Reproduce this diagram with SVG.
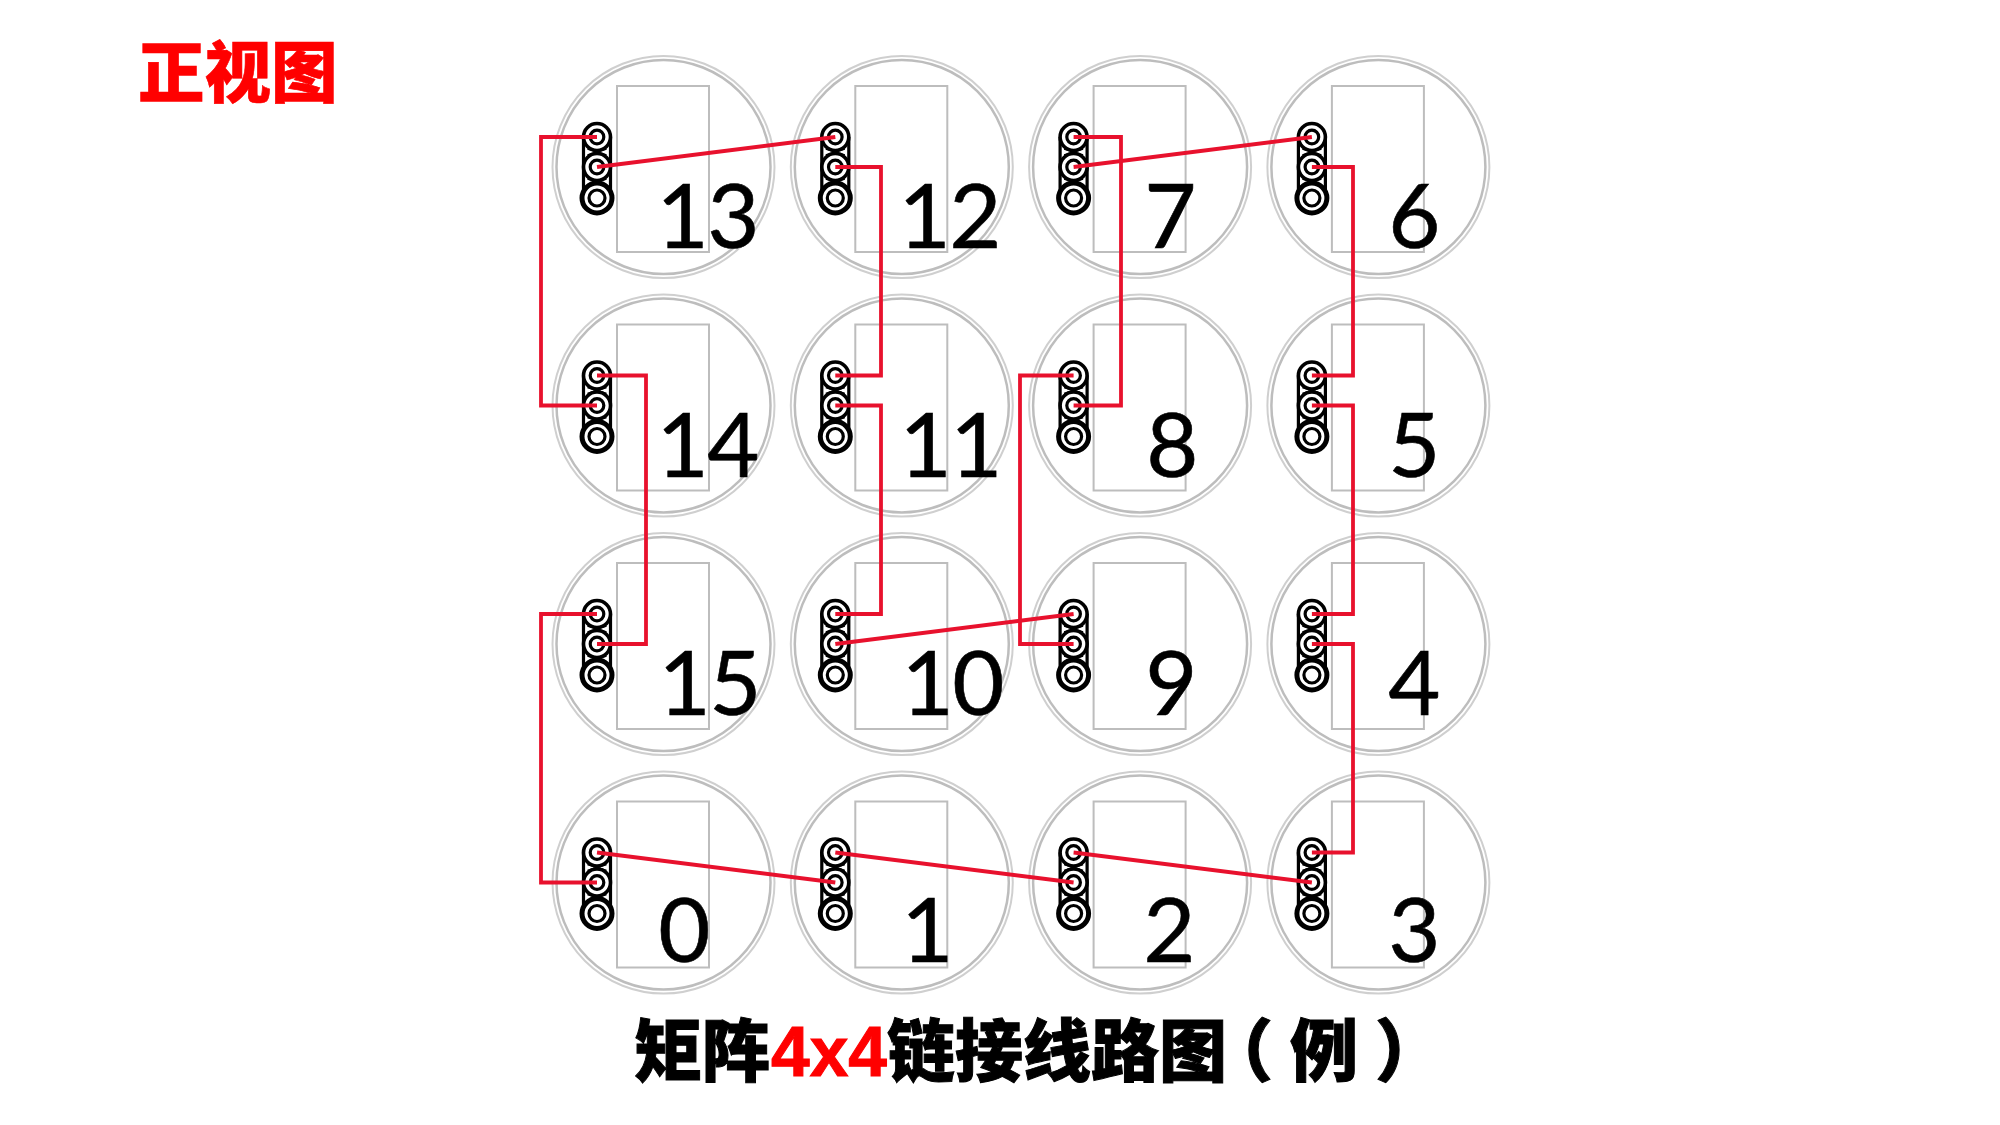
<svg xmlns="http://www.w3.org/2000/svg" width="2000" height="1125" viewBox="0 0 2000 1125">
<style>
.lbl{font-family:Lato,"Noto Sans",sans-serif;font-size:90px;fill:#000;text-anchor:end;letter-spacing:-1.5px;stroke:#000;stroke-width:.6px}
.cjk{font-family:"Noto Sans CJK SC",sans-serif;font-weight:900}
.w{fill:none;stroke:#e8112d;stroke-width:3.8;stroke-linejoin:miter}
</style>
<defs>
<g id="unit">
<circle cx="0" cy="0" r="111" fill="#fff" stroke="#cfcfcf" stroke-width="2"/>
<circle cx="0" cy="0" r="107" fill="none" stroke="#bdbdbd" stroke-width="2.500"/>
<rect x="-46.500" y="-81" width="92" height="166" fill="none" stroke="#bdbdbd" stroke-width="2"/>
<g fill="none" stroke="#000">
<path d="M-80 -30V31M-53 -30V31" stroke-width="3.200"/>
<path d="M-76 -18L-57 -12M-57 -18L-76 -12M-76 12L-57 18M-57 12L-76 18" stroke-width="1.800"/>
<circle cx="-66.500" cy="-30" r="13.500" fill="#fff" stroke-width="3.600"/>
<circle cx="-66.500" cy="-30" r="6.800" stroke-width="3.200"/>
<circle cx="-66.500" cy="0" r="13.500" fill="#fff" stroke-width="3.600"/>
<circle cx="-66.500" cy="0" r="6.800" stroke-width="3.200"/>
<circle cx="-66.500" cy="31" r="15" fill="#fff" stroke-width="5"/>
<circle cx="-66.500" cy="31" r="8" stroke-width="3.200"/>
</g>
</g>
</defs>
<rect width="2000" height="1125" fill="#fff"/>
<g id="node-13"><use href="#unit" x="663.500" y="167"/><text class="lbl" x="758" y="248">13</text></g>
<g id="node-12"><use href="#unit" x="901.800" y="167"/><text class="lbl" x="1000" y="248">12</text></g>
<g id="node-7"><use href="#unit" x="1140.100" y="167"/><text class="lbl" x="1195" y="248">7</text></g>
<g id="node-6"><use href="#unit" x="1378.400" y="167"/><text class="lbl" x="1439" y="248">6</text></g>
<g id="node-14"><use href="#unit" x="663.500" y="405.500"/><text class="lbl" x="758" y="477">14</text></g>
<g id="node-11"><use href="#unit" x="901.800" y="405.500"/><text class="lbl" x="1001" y="477">11</text></g>
<g id="node-8"><use href="#unit" x="1140.100" y="405.500"/><text class="lbl" x="1197" y="477">8</text></g>
<g id="node-5"><use href="#unit" x="1378.400" y="405.500"/><text class="lbl" x="1439" y="477">5</text></g>
<g id="node-15"><use href="#unit" x="663.500" y="644"/><text class="lbl" x="760" y="715">15</text></g>
<g id="node-10"><use href="#unit" x="901.800" y="644"/><text class="lbl" x="1003" y="715">10</text></g>
<g id="node-9"><use href="#unit" x="1140.100" y="644"/><text class="lbl" x="1196" y="715">9</text></g>
<g id="node-4"><use href="#unit" x="1378.400" y="644"/><text class="lbl" x="1439" y="715">4</text></g>
<g id="node-0"><use href="#unit" x="663.500" y="882.500"/><text class="lbl" x="709" y="962">0</text></g>
<g id="node-1"><use href="#unit" x="901.800" y="882.500"/><text class="lbl" x="952" y="962">1</text></g>
<g id="node-2"><use href="#unit" x="1140.100" y="882.500"/><text class="lbl" x="1194" y="962">2</text></g>
<g id="node-3"><use href="#unit" x="1378.400" y="882.500"/><text class="lbl" x="1439" y="962">3</text></g>
<g id="connectors">
<path class="w" d="M597 137H541V405.500H597"/>
<path class="w" d="M597 167L835.300 137"/>
<path class="w" d="M835.300 167H881V375.500H835.300"/>
<path class="w" d="M835.300 405.500H881V614H835.300"/>
<path class="w" d="M835.300 644L1073.600 614"/>
<path class="w" d="M1073.600 644H1020V375.500H1073.600"/>
<path class="w" d="M1073.600 405.500H1121V137H1073.600"/>
<path class="w" d="M1073.600 167L1311.900 137"/>
<path class="w" d="M1311.900 167H1353V375.500H1311.900"/>
<path class="w" d="M1311.900 405.500H1353V614H1311.900"/>
<path class="w" d="M1311.900 644H1353V852.500H1311.900"/>
<path class="w" d="M597 852.500L835.300 882.500"/>
<path class="w" d="M835.300 852.500L1073.600 882.500"/>
<path class="w" d="M1073.600 852.500L1311.900 882.500"/>
<path class="w" d="M597 375.500H646V644H597"/>
<path class="w" d="M597 614H541V882.500H597"/>
</g>
<text class="cjk" x="138" y="97" font-size="66.500" fill="#f00" stroke="#f00" stroke-width=".6">正视图</text>
<text class="cjk" font-size="68" fill="#000" stroke="#000" stroke-width="1" y="1076" x="634">矩阵<tspan x="771" fill="#f00" stroke="#f00" font-size="69.500" font-family="Liberation Sans, sans-serif" font-weight="700">4x4</tspan><tspan x="887">链接线路图</tspan><tspan dx="-22">（</tspan><tspan x="1290">例</tspan><tspan x="1375">）</tspan></text>
</svg>
